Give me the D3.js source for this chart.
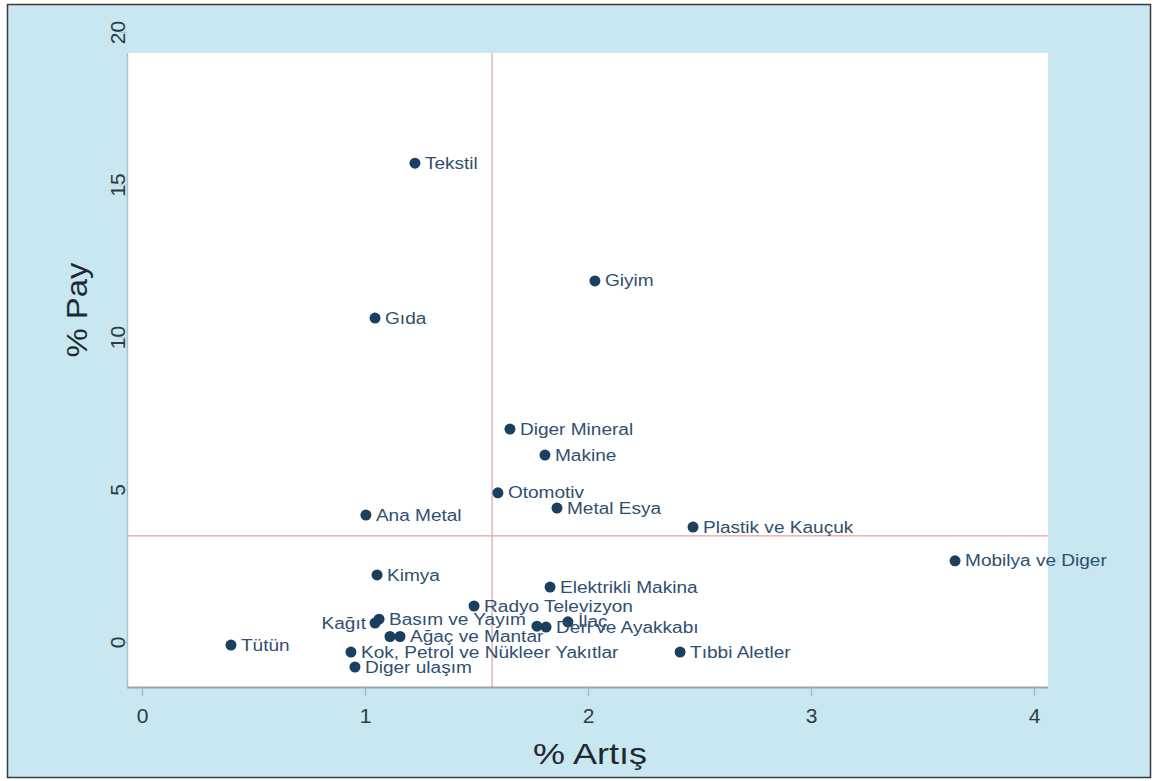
<!DOCTYPE html>
<html>
<head>
<meta charset="utf-8">
<script src="https://cdn.jsdelivr.net/npm/d3@7"></script>
<style>
  html, body { margin: 0; padding: 0; background: #ffffff; }
  svg { display: block; font-family: "Liberation Sans", Arial, sans-serif; }
</style>
</head>
<body>
<svg id="chart" width="1155" height="781"></svg>
<script>
// ---- data ----
const sectors = ["Tekstil", "Giyim", "Gıda", "Diger Mineral", "Makine", "Otomotiv", "Metal Esya",
  "Ana Metal", "Plastik ve Kauçuk", "Mobilya ve Diger", "Kimya", "Elektrikli Makina",
  "Radyo Televizyon", "Kağıt", "Basım ve Yayım", "Ağaç ve Mantar", "", "Deri ve Ayakkabı", "",
  "İlaç", "Tütün", "Kok, Petrol ve Nükleer Yakıtlar", "Diger ulaşım", "Tıbbi Aletler"];
const artis = [1.224, 2.031, 1.045, 1.650, 1.807, 1.596, 1.861,
  1.004, 2.471, 3.646, 1.054, 1.830,
  1.489, 1.045, 1.063, 1.157, 1.112, 1.812, 1.771,
  1.910, 0.399, 0.937, 0.955, 2.413];
const pay = [15.70, 11.84, 10.62, 6.98, 6.13, 4.89, 4.39,
  4.16, 3.77, 2.66, 2.20, 1.80,
  1.18, 0.62, 0.75, 0.18, 0.18, 0.49, 0.52,
  0.66, -0.10, -0.33, -0.82, -0.33];
const labelSide = ["r","r","r","r","r","r","r","r","r","r","r","r","r","l","r","r","r","r","r","r","r","r","r","r"];
const xTicks = [0, 1, 2, 3, 4];
const yTicks = [0, 5, 10, 15, 20];
const refX = 1.57;   // vertical reference line (% Artış)
const refY = 3.48;   // horizontal reference line (% Pay)
const xTitle = "% Artış";
const yTitle = "% Pay";

// ---- layout ----
const svg = d3.select("#chart");
const plot = { left: 127, right: 1048, top: 53, bottom: 687 };

const x = d3.scaleLinear().domain([0, 4]).range([142, 1034]);
const y = d3.scaleLinear().domain([0, 20]).range([642, 32]);

// outer background with border
svg.append("rect").attr("x", 7.5).attr("y", 4.5).attr("width", 1143).attr("height", 773)
  .attr("fill", "#c9e7f0").attr("stroke", "#3a3a3a").attr("stroke-width", 1.5);

// plot region
svg.append("rect").attr("x", plot.left).attr("y", plot.top)
  .attr("width", plot.right - plot.left).attr("height", plot.bottom - plot.top)
  .attr("fill", "#ffffff");

// reference lines
svg.append("line").attr("x1", x(refX)).attr("x2", x(refX))
  .attr("y1", plot.top).attr("y2", plot.bottom)
  .attr("stroke", "#e3a1a4").attr("stroke-width", 1.2);
svg.append("line").attr("x1", plot.left).attr("x2", plot.right)
  .attr("y1", y(refY)).attr("y2", y(refY))
  .attr("stroke", "#e3a1a4").attr("stroke-width", 1.2);

// x axis
const xAxis = svg.append("g").attr("transform", `translate(0,${plot.bottom})`)
  .call(d3.axisBottom(x).tickValues(xTicks).tickFormat(d3.format("d")).tickSize(9).tickPadding(12));
xAxis.select(".domain").attr("d", `M${plot.left},0.5H${plot.right}`).attr("stroke", "#9aa3a8").attr("stroke-width", 2);
xAxis.selectAll(".tick line").attr("stroke", "#a9b4b9").attr("stroke-width", 1.2);
xAxis.selectAll(".tick text").attr("font-size", 21).attr("fill", "#2e3b42")
  .attr("font-family", "Liberation Sans, Arial, sans-serif");

// y axis
const yAxis = svg.append("g").attr("transform", `translate(${plot.left},0)`)
  .call(d3.axisLeft(y).tickValues(yTicks).tickFormat(d3.format("d")).tickSize(8).tickPadding(0));
yAxis.select(".domain").attr("d", `M0.5,${plot.top}V${plot.bottom}`).attr("stroke", "#b3bfc4").attr("stroke-width", 1.5);
yAxis.selectAll(".tick line").attr("stroke", "#b8c4c9").attr("stroke-width", 1.2);
yAxis.selectAll(".tick text")
  .attr("font-size", 21).attr("fill", "#2e3b42")
  .attr("font-family", "Liberation Sans, Arial, sans-serif")
  .attr("x", null).attr("dy", null)
  .attr("text-anchor", "middle")
  .attr("transform", "translate(-2,0) rotate(-90)");

// axis titles
svg.append("text").attr("x", 590).attr("y", 764).attr("text-anchor", "middle")
  .attr("font-size", 30).attr("fill", "#1f2a30")
  .attr("textLength", 114).attr("lengthAdjust", "spacingAndGlyphs").text(xTitle);
svg.append("text").attr("transform", "translate(87,310) rotate(-90)").attr("text-anchor", "middle")
  .attr("font-size", 30).attr("fill", "#1f2a30")
  .attr("textLength", 95).attr("lengthAdjust", "spacingAndGlyphs").text(yTitle);

// points
const pts = sectors.map((s, i) => ({ name: s, ax: artis[i], py: pay[i], side: labelSide[i] }));
svg.append("g").selectAll("circle").data(pts).join("circle")
  .attr("cx", d => x(d.ax)).attr("cy", d => y(d.py)).attr("r", 5.5)
  .attr("fill", "#1b3f5e");

svg.append("g").selectAll("text").data(pts.filter(d => d.name !== "")).join("text")
  .attr("transform", d => `translate(${x(d.ax) + (d.side === "l" ? -9 : 10)},${y(d.py)}) scale(1.19,1)`)
  .attr("dy", "0.35em")
  .attr("text-anchor", d => d.side === "l" ? "end" : "start")
  .attr("font-size", 16).attr("fill", "#2f4f70")
  .text(d => d.name);
</script>
</body>
</html>
